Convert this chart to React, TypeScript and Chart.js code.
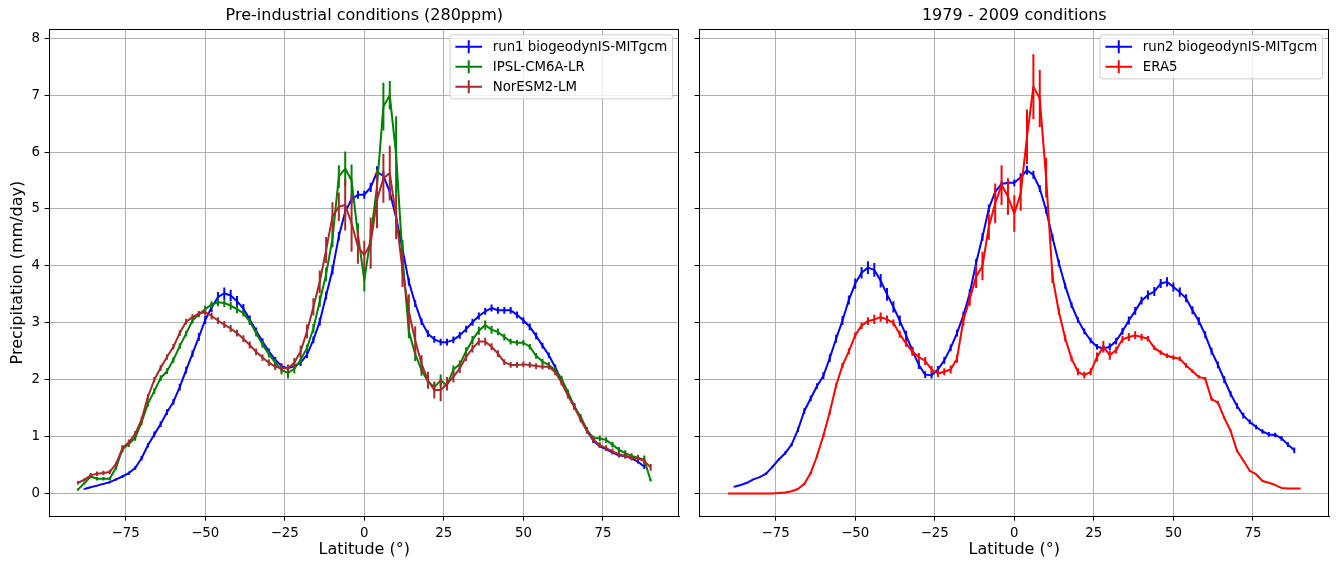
import React, { useEffect, useRef } from "react";
import { Chart, registerables } from "chart.js";

Chart.register(...registerables);

const FONT = "'DejaVu Sans', 'Liberation Sans', sans-serif";

// ---------------- data ----------------
const latModel = [
  -88, -86, -84, -82, -80, -78, -76, -74, -72, -70, -68, -66, -64, -62, -60, -58, -56, -54, -52, -50,
  -48, -46, -44, -42, -40, -38, -36, -34, -32, -30, -28, -26, -24, -22, -20, -18, -16, -14, -12, -10,
  -8, -6, -4, -2, 0, 2, 4, 6, 8, 10, 12, 14, 16, 18, 20, 22, 24, 26, 28, 30,
  32, 34, 36, 38, 40, 42, 44, 46, 48, 50, 52, 54, 56, 58, 60, 62, 64, 66, 68, 70,
  72, 74, 76, 78, 80, 82, 84, 86, 88,
];
const latFull = [
  -90, -88, -86, -84, -82, -80, -78, -76, -74, -72, -70, -68, -66, -64, -62, -60, -58, -56, -54, -52,
  -50, -48, -46, -44, -42, -40, -38, -36, -34, -32, -30, -28, -26, -24, -22, -20, -18, -16, -14, -12,
  -10, -8, -6, -4, -2, 0, 2, 4, 6, 8, 10, 12, 14, 16, 18, 20, 22, 24, 26, 28,
  30, 32, 34, 36, 38, 40, 42, 44, 46, 48, 50, 52, 54, 56, 58, 60, 62, 64, 66, 68,
  70, 72, 74, 76, 78, 80, 82, 84, 86, 88, 90,
];

const run1Precip = [
  0.08, 0.11, 0.14, 0.17, 0.2, 0.25, 0.3, 0.36, 0.45, 0.62,
  0.85, 1.04, 1.22, 1.43, 1.61, 1.87, 2.17, 2.46, 2.75, 3.05,
  3.27, 3.45, 3.52, 3.48, 3.38, 3.25, 3.06, 2.86, 2.67, 2.5,
  2.35, 2.24, 2.2, 2.24, 2.3, 2.44, 2.7, 3.02, 3.48, 3.93,
  4.52, 4.95, 5.17, 5.25, 5.25, 5.38, 5.65, 5.58, 5.3, 4.85,
  4.3, 3.72, 3.34, 3.02, 2.81, 2.71, 2.66, 2.66, 2.7, 2.78,
  2.89, 3.01, 3.12, 3.2, 3.26, 3.22, 3.22, 3.22, 3.14, 3.04,
  2.93, 2.77, 2.6, 2.43, 2.22, 1.98, 1.75, 1.54, 1.31, 1.1,
  0.93, 0.83, 0.78, 0.72, 0.67, 0.66, 0.62, 0.56, 0.47,
];
const run1Err = [
  0.01, 0.01, 0.01, 0.01, 0.02, 0.02, 0.02,
  0.03, 0.03, 0.04, 0.04, 0.05, 0.05, 0.05, 0.05,
  0.06, 0.06, 0.06, 0.07, 0.07, 0.08, 0.09, 0.1, 0.1, 0.09, 0.08, 0.07,
  0.06, 0.06, 0.05, 0.05, 0.05, 0.05, 0.05, 0.06, 0.06, 0.06, 0.07,
  0.07, 0.08, 0.08, 0.08, 0.07, 0.07, 0.07, 0.08, 0.1, 0.09, 0.09, 0.08, 0.07,
  0.07, 0.06, 0.06, 0.06, 0.06, 0.06, 0.06, 0.06, 0.06, 0.06, 0.06, 0.06,
  0.06, 0.06, 0.06, 0.06, 0.06, 0.06, 0.06, 0.06, 0.06, 0.05, 0.05, 0.05,
  0.05, 0.05, 0.05, 0.04, 0.04, 0.04, 0.03, 0.03, 0.03, 0.03, 0.03, 0.03, 0.03, 0.04,
];

const ipslPrecip = [
  0.07, 0.18, 0.3, 0.26, 0.26, 0.26, 0.46, 0.78, 0.87, 0.98,
  1.25, 1.58, 1.8, 2.03, 2.15, 2.35, 2.59, 2.81, 3.04, 3.15,
  3.24, 3.32, 3.36, 3.35, 3.3, 3.24, 3.17, 3.02, 2.82, 2.62,
  2.45, 2.3, 2.17, 2.12, 2.19, 2.35, 2.56, 2.9, 3.38, 3.85,
  4.48, 5.57, 5.71, 5.5, 4.55, 3.75, 4.5, 5.4, 6.8, 7.0,
  5.95, 4.16, 2.85, 2.45, 2.17, 1.97, 1.87, 1.99, 1.9, 2.18,
  2.27, 2.5, 2.7, 2.86, 2.96, 2.88, 2.84, 2.75, 2.67, 2.65,
  2.65, 2.58, 2.42, 2.32, 2.26, 2.17, 2.02, 1.78, 1.53, 1.35,
  1.12, 0.97, 0.97, 0.94, 0.86, 0.77, 0.71, 0.66, 0.63, 0.59, 0.23,
];
const ipslErr = [
  0.02, 0.02, 0.03, 0.03, 0.03, 0.03, 0.04, 0.06,
  0.05, 0.05, 0.05, 0.05, 0.05, 0.05, 0.05, 0.05, 0.05, 0.05, 0.05, 0.05,
  0.06, 0.06, 0.07, 0.07, 0.07, 0.07, 0.06, 0.06, 0.06, 0.06, 0.06, 0.06,
  0.08, 0.1, 0.08, 0.06, 0.06, 0.08, 0.1, 0.12,
  0.15, 0.2, 0.3, 0.28, 0.2, 0.2, 0.15, 0.3, 0.42, 0.25, 0.68, 0.3,
  0.12, 0.12, 0.1, 0.1, 0.08, 0.1, 0.08, 0.07, 0.07, 0.07, 0.07, 0.07,
  0.08, 0.07, 0.06, 0.06, 0.05, 0.05, 0.05, 0.05, 0.05, 0.05, 0.05, 0.05,
  0.05, 0.05, 0.05, 0.05, 0.05, 0.05, 0.05, 0.05, 0.05, 0.05, 0.05, 0.05, 0.05, 0.08, 0.02,
];

const noresmPrecip = [
  0.19, 0.24, 0.32, 0.35, 0.36, 0.38, 0.52, 0.8, 0.9, 1.05,
  1.3, 1.7, 2.0, 2.21, 2.4, 2.58, 2.82, 3.02, 3.1, 3.16,
  3.19, 3.12, 3.04, 2.97, 2.9, 2.82, 2.72, 2.61, 2.49, 2.39,
  2.3, 2.23, 2.2, 2.2, 2.3, 2.5, 2.85, 3.28, 3.72, 4.28,
  4.87, 5.04, 5.07, 4.75, 4.34, 4.19, 4.4, 5.16, 5.54, 5.63,
  4.87, 3.93, 3.2, 2.69, 2.28, 1.99, 1.82, 1.82, 1.93, 2.05,
  2.2, 2.4, 2.55, 2.67, 2.67, 2.58, 2.46, 2.31, 2.26, 2.26,
  2.27, 2.26, 2.24, 2.23, 2.23, 2.13, 1.95, 1.72, 1.52, 1.3,
  1.1, 0.95, 0.85, 0.8, 0.74, 0.69, 0.66, 0.63, 0.62, 0.57, 0.46,
];
const noresmErr = [
  0.03, 0.03, 0.04, 0.04, 0.04, 0.04, 0.04, 0.05,
  0.05, 0.05, 0.05, 0.05, 0.05, 0.05, 0.05, 0.05, 0.05, 0.05, 0.05, 0.05,
  0.06, 0.06, 0.06, 0.06, 0.06, 0.06, 0.06, 0.06, 0.06, 0.06, 0.06, 0.06,
  0.07, 0.07, 0.08, 0.1, 0.12, 0.15, 0.2, 0.23,
  0.25, 0.25, 0.45, 0.5, 0.3, 0.25, 0.45, 0.5, 0.43, 0.48, 0.4, 0.3,
  0.3, 0.25, 0.15, 0.15, 0.15, 0.2, 0.12, 0.1, 0.08, 0.07, 0.07, 0.07,
  0.07, 0.06, 0.06, 0.05, 0.05, 0.05, 0.05, 0.05, 0.05, 0.05, 0.05, 0.05,
  0.05, 0.05, 0.05, 0.05, 0.05, 0.05, 0.05, 0.05, 0.05, 0.05, 0.05, 0.05, 0.05, 0.06, 0.06,
];

const run2Precip = [
  0.12, 0.15, 0.19, 0.25, 0.29, 0.35, 0.47, 0.6, 0.71, 0.86,
  1.12, 1.45, 1.67, 1.89, 2.07, 2.38, 2.72, 3.04, 3.4, 3.69,
  3.88, 3.97, 3.93, 3.74, 3.5, 3.28, 3.04, 2.78, 2.51, 2.26,
  2.09, 2.08, 2.18, 2.34, 2.56, 2.82, 3.13, 3.52, 4.05, 4.51,
  5.01, 5.3, 5.44, 5.46, 5.46, 5.56, 5.68, 5.6, 5.36, 4.98,
  4.5, 4.05, 3.65, 3.31, 3.05, 2.85, 2.69, 2.58, 2.55, 2.58,
  2.68, 2.85, 3.04, 3.21, 3.39, 3.49, 3.55, 3.69, 3.72, 3.63,
  3.54, 3.43, 3.22, 3.03, 2.79, 2.5, 2.26, 2.0, 1.75, 1.54,
  1.37, 1.26, 1.17, 1.09, 1.04, 1.03, 0.97, 0.86, 0.76,
];
const run2Err = [
  0.01, 0.01, 0.01, 0.01, 0.01, 0.02, 0.02,
  0.02, 0.03, 0.03, 0.04, 0.05, 0.05, 0.05, 0.06,
  0.07, 0.07, 0.08, 0.08, 0.09, 0.1, 0.11, 0.12, 0.12, 0.11, 0.1, 0.09,
  0.08, 0.07, 0.07, 0.06, 0.06, 0.06, 0.06, 0.06, 0.06, 0.07, 0.07,
  0.07, 0.07, 0.07, 0.06, 0.05, 0.05, 0.06, 0.07, 0.08, 0.07, 0.06, 0.06, 0.06,
  0.06, 0.05, 0.05, 0.05, 0.05, 0.05, 0.05, 0.05, 0.06, 0.06, 0.06, 0.07,
  0.07, 0.07, 0.08, 0.08, 0.08, 0.08, 0.08, 0.08, 0.07, 0.07, 0.07, 0.06,
  0.06, 0.06, 0.06, 0.05, 0.05, 0.05, 0.04, 0.04, 0.04, 0.04, 0.04, 0.04, 0.04, 0.05,
];

const era5Precip = [
  0, 0, 0, 0, 0, 0, 0, 0, 0.01, 0.02,
  0.04, 0.08, 0.17, 0.36, 0.66, 1.02, 1.43, 1.9, 2.25, 2.5,
  2.78, 2.95, 3.03, 3.06, 3.1, 3.06, 3.0, 2.8, 2.64, 2.49,
  2.4, 2.33, 2.18, 2.11, 2.14, 2.18, 2.37, 3.05, 3.42, 3.81,
  4.0, 4.69, 5.1, 5.42, 5.22, 4.92, 5.27, 6.27, 7.15, 6.94,
  5.55, 3.8, 3.2, 2.73, 2.37, 2.14, 2.08, 2.14, 2.4, 2.58,
  2.43, 2.52, 2.71, 2.75, 2.78, 2.75, 2.72, 2.56, 2.48, 2.42,
  2.39, 2.37, 2.25, 2.15, 2.05, 2.02, 1.66, 1.6, 1.33, 1.1,
  0.75, 0.58, 0.4, 0.34, 0.22, 0.19, 0.15, 0.1, 0.09, 0.09, 0.09,
];
const era5Err = [
  0, 0, 0, 0, 0, 0, 0, 0,
  0, 0, 0.01, 0.01, 0.02, 0.02, 0.03, 0.03, 0.04, 0.04, 0.05, 0.05,
  0.05, 0.06, 0.07, 0.08, 0.08, 0.07, 0.06, 0.06, 0.06, 0.07, 0.07, 0.07,
  0.06, 0.06, 0.06, 0.07, 0.07, 0.1, 0.12, 0.2,
  0.25, 0.23, 0.35, 0.35, 0.32, 0.32, 0.3, 0.48, 0.57, 0.5, 0.35, 0.1,
  0.06, 0.06, 0.05, 0.06, 0.06, 0.06, 0.08, 0.1, 0.08, 0.06, 0.06, 0.07,
  0.07, 0.06, 0.05, 0.04, 0.04, 0.04, 0.04, 0.04, 0.04, 0.03, 0.03, 0.03,
  0.03, 0.03, 0.02, 0.02, 0.02, 0.01, 0.01, 0.01, 0, 0, 0, 0, 0, 0, 0,
];

const xTickValues = [-75, -50, -25, 0, 25, 50, 75];
const yTickValues = [0, 1, 2, 3, 4, 5, 6, 7, 8];

const leftTitle = "Pre-industrial conditions (280ppm)";
const rightTitle = "1979 - 2009 conditions";
const xAxisTitle = "Latitude (°)";
const yAxisTitle = "Precipitation (mm/day)";

// ---------------- helpers ----------------
const minusFmt = (v: number) => (v < 0 ? "\u2212" + Math.abs(v) : String(v));

function makeDataset(label: string, color: string, lats: number[], vals: number[], errs: number[], order: number) {
  return {
    label,
    data: lats.map((x, i) => ({ x, y: vals[i] })),
    errors: errs,
    borderColor: color,
    backgroundColor: color,
    borderWidth: 2,
    borderJoinStyle: "round",
    pointRadius: 0,
    pointHoverRadius: 0,
    tension: 0,
    fill: false,
    order,
  };
}

const errorBarPlugin = {
  id: "errbars",
  afterDatasetDraw(chart: any, args: any) {
    const ds = chart.data.datasets[args.index];
    const errs: number[] = ds.errors;
    if (!errs) return;
    const { ctx, chartArea: a, scales } = chart;
    const xs = scales.x;
    const ys = scales.y;
    ctx.save();
    ctx.beginPath();
    ctx.rect(a.left, a.top, a.right - a.left, a.bottom - a.top);
    ctx.clip();
    ctx.strokeStyle = ds.borderColor;
    ctx.lineWidth = ds.borderWidth;
    ctx.beginPath();
    ds.data.forEach((p: any, i: number) => {
      const e = errs[i] || 0;
      if (e <= 0) return;
      const x = xs.getPixelForValue(p.x);
      ctx.moveTo(x, ys.getPixelForValue(p.y - e));
      ctx.lineTo(x, ys.getPixelForValue(p.y + e));
    });
    ctx.stroke();
    ctx.restore();
  },
};

const framePlugin = {
  id: "frame",
  afterDraw(chart: any) {
    const { ctx, chartArea: a } = chart;
    ctx.save();
    ctx.strokeStyle = "#000";
    ctx.lineWidth = 1;
    ctx.strokeRect(Math.round(a.left) + 0.5, Math.round(a.top) + 0.5, Math.round(a.right - a.left) - 1, Math.round(a.bottom - a.top));
    ctx.restore();
  },
};

const legendPlugin = {
  id: "mplLegend",
  afterDraw(chart: any, _args: any, opts: any) {
    const items = opts && opts.items;
    if (!items || !items.length) return;
    const { ctx, chartArea: a } = chart;
    const fs = 13.333;
    ctx.save();
    ctx.font = `${fs}px ${FONT}`;
    const borderPad = 0.4 * fs;
    const handleLen = 2 * fs;
    const handlePad = 0.8 * fs;
    const axPad = 0.5 * fs;
    const rowStep = 1.5 * fs;
    const textW = Math.max(...items.map((it: any) => ctx.measureText(it.label).width));
    const w = borderPad * 2 + handleLen + handlePad + textW;
    const h = borderPad * 2 + items.length * fs + (items.length - 1) * 0.5 * fs;
    const right = a.right - axPad;
    const top = a.top + axPad - 1;
    const left = right - w;
    const r = 0.2 * fs;
    ctx.beginPath();
    ctx.moveTo(left + r, top);
    ctx.lineTo(right - r, top);
    ctx.quadraticCurveTo(right, top, right, top + r);
    ctx.lineTo(right, top + h - r);
    ctx.quadraticCurveTo(right, top + h, right - r, top + h);
    ctx.lineTo(left + r, top + h);
    ctx.quadraticCurveTo(left, top + h, left, top + h - r);
    ctx.lineTo(left, top + r);
    ctx.quadraticCurveTo(left, top, left + r, top);
    ctx.closePath();
    ctx.fillStyle = "rgba(255,255,255,0.8)";
    ctx.fill();
    ctx.strokeStyle = "#cccccc";
    ctx.lineWidth = 1;
    ctx.stroke();
    items.forEach((it: any, i: number) => {
      const cy = top + borderPad + fs / 2 + i * rowStep;
      const x0 = left + borderPad;
      ctx.strokeStyle = it.color;
      ctx.lineWidth = 2;
      ctx.beginPath();
      ctx.moveTo(x0, cy);
      ctx.lineTo(x0 + handleLen, cy);
      ctx.moveTo(x0 + handleLen / 2, cy - 6.5);
      ctx.lineTo(x0 + handleLen / 2, cy + 6.5);
      ctx.stroke();
      ctx.fillStyle = "#000";
      ctx.textBaseline = "middle";
      ctx.textAlign = "left";
      ctx.fillText(it.label, x0 + handleLen + handlePad, cy + 0.5);
    });
    ctx.restore();
  },
};

function panelConfig(p: {
  title: string;
  datasets: any[];
  showYLabels: boolean;
  yAxisWidth: number;
  padRight: number;
  legendItems: { label: string; color: string }[];
}): any {
  const tickFont = { family: FONT, size: 13.333 };
  const labelFont = { family: FONT, size: 16 };
  return {
    type: "line",
    data: { datasets: p.datasets },
    options: {
      animation: false,
      responsive: false,
      maintainAspectRatio: false,
      events: [],
      layout: { padding: { top: 0, right: p.padRight, bottom: 0, left: 0 } },
      plugins: {
        legend: { display: false },
        tooltip: { enabled: false },
        title: {
          display: true,
          text: p.title,
          fullSize: false,
          color: "#000",
          font: { family: FONT, size: 16, weight: "normal" },
          padding: { top: 6, bottom: 4 },
        },
        mplLegend: { items: p.legendItems },
      },
      scales: {
        x: {
          type: "linear",
          min: -99,
          max: 99,
          afterBuildTicks: (s: any) => {
            s.ticks = xTickValues.map((v) => ({ value: v }));
          },
          afterFit: (s: any) => {
            s.height = 47;
          },
          ticks: {
            callback: (v: any) => minusFmt(Number(v)),
            font: tickFont,
            color: "#000",
            padding: 4.7,
            maxRotation: 0,
            autoSkip: false,
          },
          grid: { color: "#b0b0b0", lineWidth: 1, tickColor: "#000", tickLength: 4.7, tickWidth: 1 },
          border: { display: true, color: "#000", width: 1 },
          title: {
            display: true,
            text: xAxisTitle,
            color: "#000",
            font: labelFont,
            padding: { top: 0, bottom: 3.4 },
          },
        },
        y: {
          type: "linear",
          min: -0.394,
          max: 8.159,
          afterBuildTicks: (s: any) => {
            s.ticks = yTickValues.map((v) => ({ value: v }));
          },
          afterFit: (s: any) => {
            s.width = p.yAxisWidth;
          },
          ticks: {
            callback: (v: any) => (p.showYLabels ? minusFmt(Number(v)) : ""),
            font: tickFont,
            color: "#000",
            padding: 4.7,
            autoSkip: false,
          },
          grid: { color: "#b0b0b0", lineWidth: 1, tickColor: "#000", tickLength: 4.7, tickWidth: 1 },
          border: { display: true, color: "#000", width: 1 },
          title: {
            display: p.showYLabels,
            text: yAxisTitle,
            color: "#000",
            font: labelFont,
            padding: { top: 8.4, bottom: 0 },
          },
        },
      },
    },
    plugins: [errorBarPlugin, framePlugin, legendPlugin],
  };
}

export default function App() {
  const leftRef = useRef<HTMLCanvasElement | null>(null);
  const rightRef = useRef<HTMLCanvasElement | null>(null);

  useEffect(() => {
    const left = new Chart(
      leftRef.current as HTMLCanvasElement,
      panelConfig({
        title: leftTitle,
        datasets: [
          makeDataset("run1 biogeodynIS-MITgcm", "#0000ff", latModel, run1Precip, run1Err, 2),
          makeDataset("IPSL-CM6A-LR", "#008000", latFull, ipslPrecip, ipslErr, 1),
          makeDataset("NorESM2-LM", "#a52a2a", latFull, noresmPrecip, noresmErr, 0),
        ],
        showYLabels: true,
        yAxisWidth: 49.3,
        padRight: 10.7,
        legendItems: [
          { label: "run1 biogeodynIS-MITgcm", color: "#0000ff" },
          { label: "IPSL-CM6A-LR", color: "#008000" },
          { label: "NorESM2-LM", color: "#a52a2a" },
        ],
      })
    );
    const right = new Chart(
      rightRef.current as HTMLCanvasElement,
      panelConfig({
        title: rightTitle,
        datasets: [
          makeDataset("run2 biogeodynIS-MITgcm", "#0000ff", latModel, run2Precip, run2Err, 1),
          makeDataset("ERA5", "#ff0000", latFull, era5Precip, era5Err, 0),
        ],
        showYLabels: false,
        yAxisWidth: 9.3,
        padRight: 6.7,
        legendItems: [
          { label: "run2 biogeodynIS-MITgcm", color: "#0000ff" },
          { label: "ERA5", color: "#ff0000" },
        ],
      })
    );
    return () => {
      left.destroy();
      right.destroy();
    };
  }, []);

  return (
    <div style={{ position: "absolute", left: 0, top: 0, width: 1336, height: 563, background: "#fff" }}>
      <canvas ref={leftRef} width={690} height={563} style={{ position: "absolute", left: 0, top: 0 }} />
      <canvas ref={rightRef} width={646} height={563} style={{ position: "absolute", left: 690, top: 0 }} />
    </div>
  );
}
